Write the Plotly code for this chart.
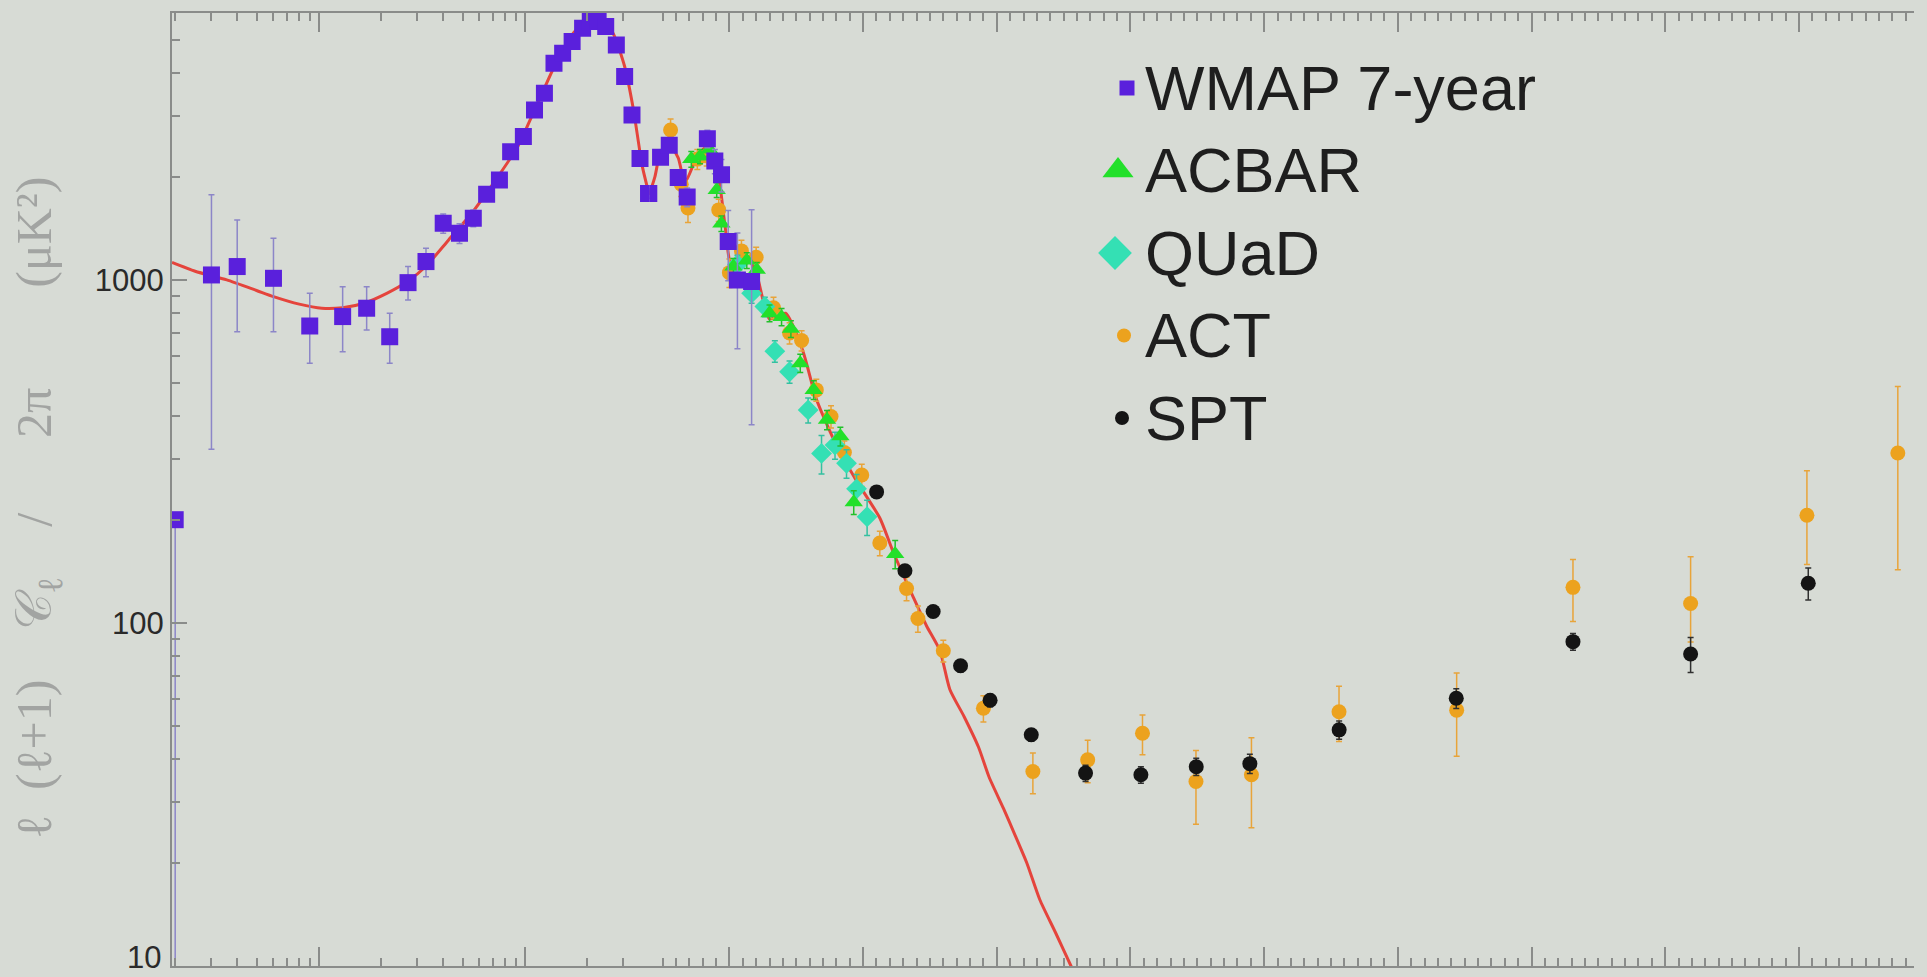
import math
import plotly.graph_objects as go

# ---------------------------------------------------------------------------
# CMB temperature power spectrum  D_ell = ell(ell+1)C_ell/2pi  [muK^2]
# ---------------------------------------------------------------------------

# WMAP 7-year binned spectrum
wmap_ell = [2, 3, 4, 6, 9, 13, 17, 22, 27, 33, 40, 48, 56, 65, 75, 85, 98, 111,
            124, 138, 152, 169, 190, 207, 226, 246, 277, 304, 330, 361, 397,
            485, 550, 617, 684, 835, 891, 941, 991, 1060, 1166]
wmap_dl = [200, 1034, 1094, 1011, 734, 782, 827, 683, 982, 1131, 1462, 1368, 1513,
           1778, 1957, 2366, 2617, 3131, 3500, 4283, 4582, 4953, 5419, 5666, 5666,
           5477, 4843, 3917, 3028, 2260, 1785, 2280, 2470, 1990, 1745, 2580, 2220,
           2025, 1295, 1000, 990]
wmap_err_hi = [0, 736, 402, 312, 181, 174, 129, 117, 112, 106, 95, 90, 85, 80, 75,
               75, 75, 75, 75, 75, 75, 75, 75, 75, 75, 75, 70, 65, 60, 55, 55, 60,
               70, 90, 110, 150, 180, 220, 300, 370, 612]
wmap_err_lo = [195, 713, 388, 305, 162, 164, 112, 111, 108, 109, 95, 90, 85, 80, 75,
               75, 75, 75, 75, 75, 75, 75, 75, 75, 75, 75, 70, 65, 60, 55, 55, 60,
               70, 90, 110, 150, 180, 220, 300, 370, 612]

# ACBAR
acbar_ell = [715, 780, 850, 905, 940, 1030, 1130, 1205, 1300, 1390, 1460, 1530,
             1630, 1730, 1830, 1930, 2240]
acbar_dl = [2250, 2290, 2400, 1830, 1460, 1095, 1140, 1070, 800, 780, 720, 572,
            478, 391, 350, 225, 159]
acbar_err = [120, 110, 110, 90, 75, 60, 60, 55, 45, 45, 40, 35, 30, 25, 22, 18, 15]

# QUaD
quad_ell = [1060, 1166, 1265, 1340, 1450, 1589, 1689, 1790, 1876, 1951, 2030]
quad_dl = [1110, 915, 836, 620, 540, 418, 312, 330, 292, 246, 204]
quad_err = [70, 60, 55, 45, 40, 35, 40, 30, 28, 25, 24]

# ACT
act_ell = [560, 640, 690, 760, 830, 920, 1000, 1090, 1200, 1330, 1450, 1540, 1650,
           1760, 1860, 1990, 2125, 2325, 2410, 2600, 2900, 3270, 3680, 4090, 4490,
           4905, 5560, 6440, 7310, 8190, 9060, 9740]
act_dl = [2735, 1900, 1620, 2250, 2300, 1600, 1050, 1215, 1165, 830, 700, 666, 478,
          400, 314, 270, 171, 126, 103, 83, 56.4, 36.9, 39.9, 47.7, 34.5, 36.1,
          55.1, 55.7, 127, 114, 206, 313]
act_err_hi = [210, 150, 150, 150, 150, 120, 100, 90, 80, 60, 50, 45, 35, 30, 25, 20,
              14, 10, 9, 6, 5, 4.9, 5.6, 6.2, 8, 10.2, 10.3, 15.8, 26, 42, 72, 176]
act_err_lo = [210, 150, 150, 150, 150, 120, 100, 90, 80, 60, 50, 45, 35, 30, 25, 20,
              14, 10, 9, 6, 5, 5.1, 5.7, 6.4, 8.6, 10.8, 10, 14.8, 26, 26, 58, 170]

# SPT
spt_ell = [2101, 2313, 2524, 2729, 2950, 3258, 3664, 4078, 4492, 4893, 5561, 6437,
           7310, 8190, 9070]
spt_dl = [241, 142, 108, 75, 59.5, 47.2, 36.5, 36.1, 38.1, 38.9, 48.8, 60.3, 88.2,
          81.2, 130.6]
spt_err = [8, 5, 4, 3, 2.5, 2, 2, 2, 2.2, 2.5, 3, 4, 5, 9.5, 14]

# Best-fit LambdaCDM model
model_ell = [1.93, 2.5, 3.56, 5, 6, 8, 10.3, 13, 16.5, 21.4, 26.8, 32.9, 42.5, 55,
             71, 92, 113, 141, 174, 200, 221, 245, 267, 304, 335, 370, 400, 443, 480,
             540, 617, 667, 754, 820, 904, 966, 1016, 1120, 1200, 1300, 1420, 1550,
             1650, 1800, 1950, 2126, 2225, 2375, 2475, 2575, 2649, 2756, 2863, 2943,
             3050, 3130, 3224, 3322, 3440, 3555, 3650]
model_dl = [1125, 1060, 1000, 930, 894, 850, 827, 830, 855, 915, 989, 1094, 1308,
            1565, 1934, 2447, 3200, 4283, 5300, 5650, 5730, 5550, 5240, 4190, 3150,
            2150, 1770, 2000, 2330, 2520, 2270, 1920, 2270, 2430, 2146, 1452, 1100,
            1180, 1050, 770, 800, 620, 450, 330, 260, 202, 161, 119, 98, 83, 64,
            53.3, 43.5, 35.5, 28.8, 24.4, 20, 15.6, 12.5, 10, 8.2]

# y tick labels
y_tick_vals = [100, 1000]
y_tick_text = ["100", "1000"]
y_bottom_label = "10"

# ---------------------------------------------------------------------------
# Axis layout: logarithmic in ell up to 400, linear beyond
# ---------------------------------------------------------------------------
ELL_MIN, ELL_SPLIT, ELL_MAX = 1.93, 400, 9861
D_MIN, D_MAX = 10, 6000

FIG_W, FIG_H = 1927, 977
MARGIN = dict(l=172, r=13, t=13, b=11)
PLOT_W = FIG_W - MARGIN["l"] - MARGIN["r"]
PLOT_H = FIG_H - MARGIN["t"] - MARGIN["b"]
LOG_DECADE_PX = 206
SPLIT_FRAC = LOG_DECADE_PX * math.log10(ELL_SPLIT / ELL_MIN) / PLOT_W

BG = "#d7dbd5"
AXIS_COLOR = "#8a8c8a"
TICK_FONT = dict(family="Liberation Sans, Arial, sans-serif", size=31, color="#2a2a2a")

STYLE = {
    "WMAP 7-year": dict(symbol="square", color="#5a20dc", size=17, err="#8c86c8"),
    "ACBAR": dict(symbol="triangle-up", color="#22e02a", size=16, err="#22c02a"),
    "QUaD": dict(symbol="diamond", color="#34e0b4", size=16, err="#34c0a0"),
    "ACT": dict(symbol="circle", color="#eca21e", size=15, err="#e8a43a"),
    "SPT": dict(symbol="circle", color="#141414", size=15, err="#303030"),
}
MODEL_COLOR = "#e5443c"


def pieces(ell, *cols, overlap=True):
    """Split a series into its log-axis part and its linear-axis part.

    Points close to the seam go to both sub-axes so each half of the marker
    is drawn on its own side."""
    if overlap:
        left = [i for i, l in enumerate(ell) if l < ELL_SPLIT * 1.08]
        right = [i for i, l in enumerate(ell) if l > ELL_SPLIT * 0.93]
    else:
        left = [i for i, l in enumerate(ell) if l <= ELL_SPLIT]
        right = [i for i, l in enumerate(ell) if l >= ELL_SPLIT]
    out = []
    for idx, axis in ((left, "x"), (right, "x2")):
        if idx:
            out.append((axis, [ell[i] for i in idx], [[c[i] for i in idx] for c in cols]))
    return out


fig = go.Figure()

# model curve
for axis, xs, (ys,) in pieces(model_ell, model_dl, overlap=False):
    fig.add_trace(go.Scatter(x=xs, y=ys, xaxis=axis, yaxis="y", mode="lines",
                             line=dict(color=MODEL_COLOR, width=3, shape="spline",
                                       smoothing=0.6),
                             showlegend=False, hoverinfo="skip"))


def add_points(name, ell, dl, err_hi, err_lo):
    st = STYLE[name]
    for axis, xs, (ys, eh, el) in pieces(ell, dl, err_hi, err_lo):
        fig.add_trace(go.Scatter(
            x=xs, y=ys, xaxis=axis, yaxis="y", mode="markers", name=name,
            marker=dict(symbol=st["symbol"], color=st["color"], size=st["size"],
                        line=dict(width=0)),
            error_y=dict(type="data", symmetric=False, array=eh, arrayminus=el,
                         color=st["err"], thickness=1.5, width=3),
            showlegend=False))


add_points("ACT", act_ell, act_dl, act_err_hi, act_err_lo)
add_points("QUaD", quad_ell, quad_dl, quad_err, quad_err)
add_points("ACBAR", acbar_ell, acbar_dl, acbar_err, acbar_err)
add_points("SPT", spt_ell, spt_dl, spt_err, spt_err)
add_points("WMAP 7-year", wmap_ell, wmap_dl, wmap_err_hi, wmap_err_lo)

# ---------------------------------------------------------------------------
# Legend (keys on a unit overlay subplot, labels as text)
# ---------------------------------------------------------------------------
LEGEND_TEXT_X = 1143     # figure pixels
LEGEND_ROW0_Y = 88
LEGEND_ROW_DY = 82.5
# name: (key centre x in pixels, key size)
legend_keys = {"WMAP 7-year": (1127, 15), "ACBAR": (1118, 27), "QUaD": (1115, 26),
               "ACT": (1124, 14), "SPT": (1122, 14)}


def px_to_frac_x(px):
    return (px - MARGIN["l"]) / PLOT_W


def px_to_frac_y(py):
    return (FIG_H - MARGIN["b"] - py) / PLOT_H


for row, (name, (kx, ksize)) in enumerate(legend_keys.items()):
    st = STYLE[name]
    ky = px_to_frac_y(LEGEND_ROW0_Y + row * LEGEND_ROW_DY)
    fig.add_trace(go.Scatter(x=[px_to_frac_x(kx)], y=[ky], xaxis="x3", yaxis="y4",
                             mode="markers",
                             marker=dict(symbol=st["symbol"], color=st["color"], size=ksize),
                             showlegend=False, hoverinfo="skip"))
    fig.add_annotation(x=px_to_frac_x(LEGEND_TEXT_X), y=ky, xref="paper", yref="paper",
                       text=name, showarrow=False, xanchor="left", yanchor="middle",
                       font=dict(family="Liberation Sans, Arial, sans-serif", size=63,
                                 color="#1e1e1e"))

# y-axis title and the bottom "10" label (raised to sit inside the page)
fig.add_annotation(
    x=px_to_frac_x(38), y=px_to_frac_y(508), xref="paper", yref="paper",
    text="ℓ\u2002(ℓ+1)\u2003𝒞<sub>ℓ</sub>\u2003/\u2003\u20022π\u2003\u2003(μK²)",
    textangle=-90, showarrow=False, xanchor="center", yanchor="middle",
    font=dict(family="Liberation Serif, DejaVu Serif, serif", size=50, color="#a2a4a2"))
fig.add_annotation(x=px_to_frac_x(163), y=px_to_frac_y(957), xref="paper", yref="paper",
                   text=y_bottom_label, showarrow=False, xanchor="right",
                   yanchor="middle", font=TICK_FONT)

# ---------------------------------------------------------------------------
# Axes
# ---------------------------------------------------------------------------
frame = dict(showline=True, linecolor=AXIS_COLOR, linewidth=2, ticks="inside",
             tickcolor=AXIS_COLOR, tickwidth=1.5, showgrid=False, zeroline=False)

log_minor_x = [m * 10 ** k for k in range(0, 3) for m in range(2, 10)
               if ELL_MIN <= m * 10 ** k <= ELL_SPLIT]
lin_minor_x = [v for v in range(500, int(ELL_MAX), 100) if v % 1000]
log_minor_y = [m * 10 ** k for k in range(1, 4) for m in range(2, 10)
               if m * 10 ** k <= D_MAX]

fig.update_layout(
    width=FIG_W, height=FIG_H, margin=MARGIN,
    paper_bgcolor=BG, plot_bgcolor="rgba(0,0,0,0)", showlegend=False,
    xaxis=dict(type="log", domain=[0, SPLIT_FRAC], anchor="y",
               range=[math.log10(ELL_MIN), math.log10(ELL_SPLIT)],
               tickvals=[10, 100], ticklen=19, showticklabels=False, mirror="allticks",
               minor=dict(tickvals=log_minor_x, ticklen=8, ticks="inside",
                          tickcolor=AXIS_COLOR, tickwidth=1.5),
               **frame),
    xaxis2=dict(type="linear", domain=[SPLIT_FRAC, 1], anchor="y",
                range=[ELL_SPLIT, ELL_MAX],
                tickvals=list(range(1000, int(ELL_MAX), 1000)), ticklen=19,
                showticklabels=False, mirror="allticks",
                minor=dict(tickvals=lin_minor_x, ticklen=8, ticks="inside",
                           tickcolor=AXIS_COLOR, tickwidth=1.5),
                **frame),
    yaxis=dict(type="log", domain=[0, 1], anchor="x", side="left",
               range=[math.log10(D_MIN), math.log10(D_MAX)],
               tickvals=y_tick_vals, ticktext=y_tick_text, ticklen=15,
               tickfont=TICK_FONT, ticklabelstandoff=0,
               minor=dict(tickvals=log_minor_y, ticklen=8, ticks="inside",
                          tickcolor=AXIS_COLOR, tickwidth=1.5),
               **frame),
    yaxis3=dict(type="log", overlaying="y", anchor="x2", side="right",
                range=[math.log10(D_MIN), math.log10(D_MAX)],
                tickvals=y_tick_vals, ticklen=15, showticklabels=False,
                minor=dict(tickvals=log_minor_y, ticklen=8, ticks="inside",
                           tickcolor=AXIS_COLOR, tickwidth=1.5),
                **frame),
    xaxis3=dict(domain=[0, 1], range=[0, 1], anchor="y4", visible=False),
    yaxis4=dict(domain=[0, 1], range=[0, 1], anchor="x3", visible=False),
)

fig.write_html("out.html")
